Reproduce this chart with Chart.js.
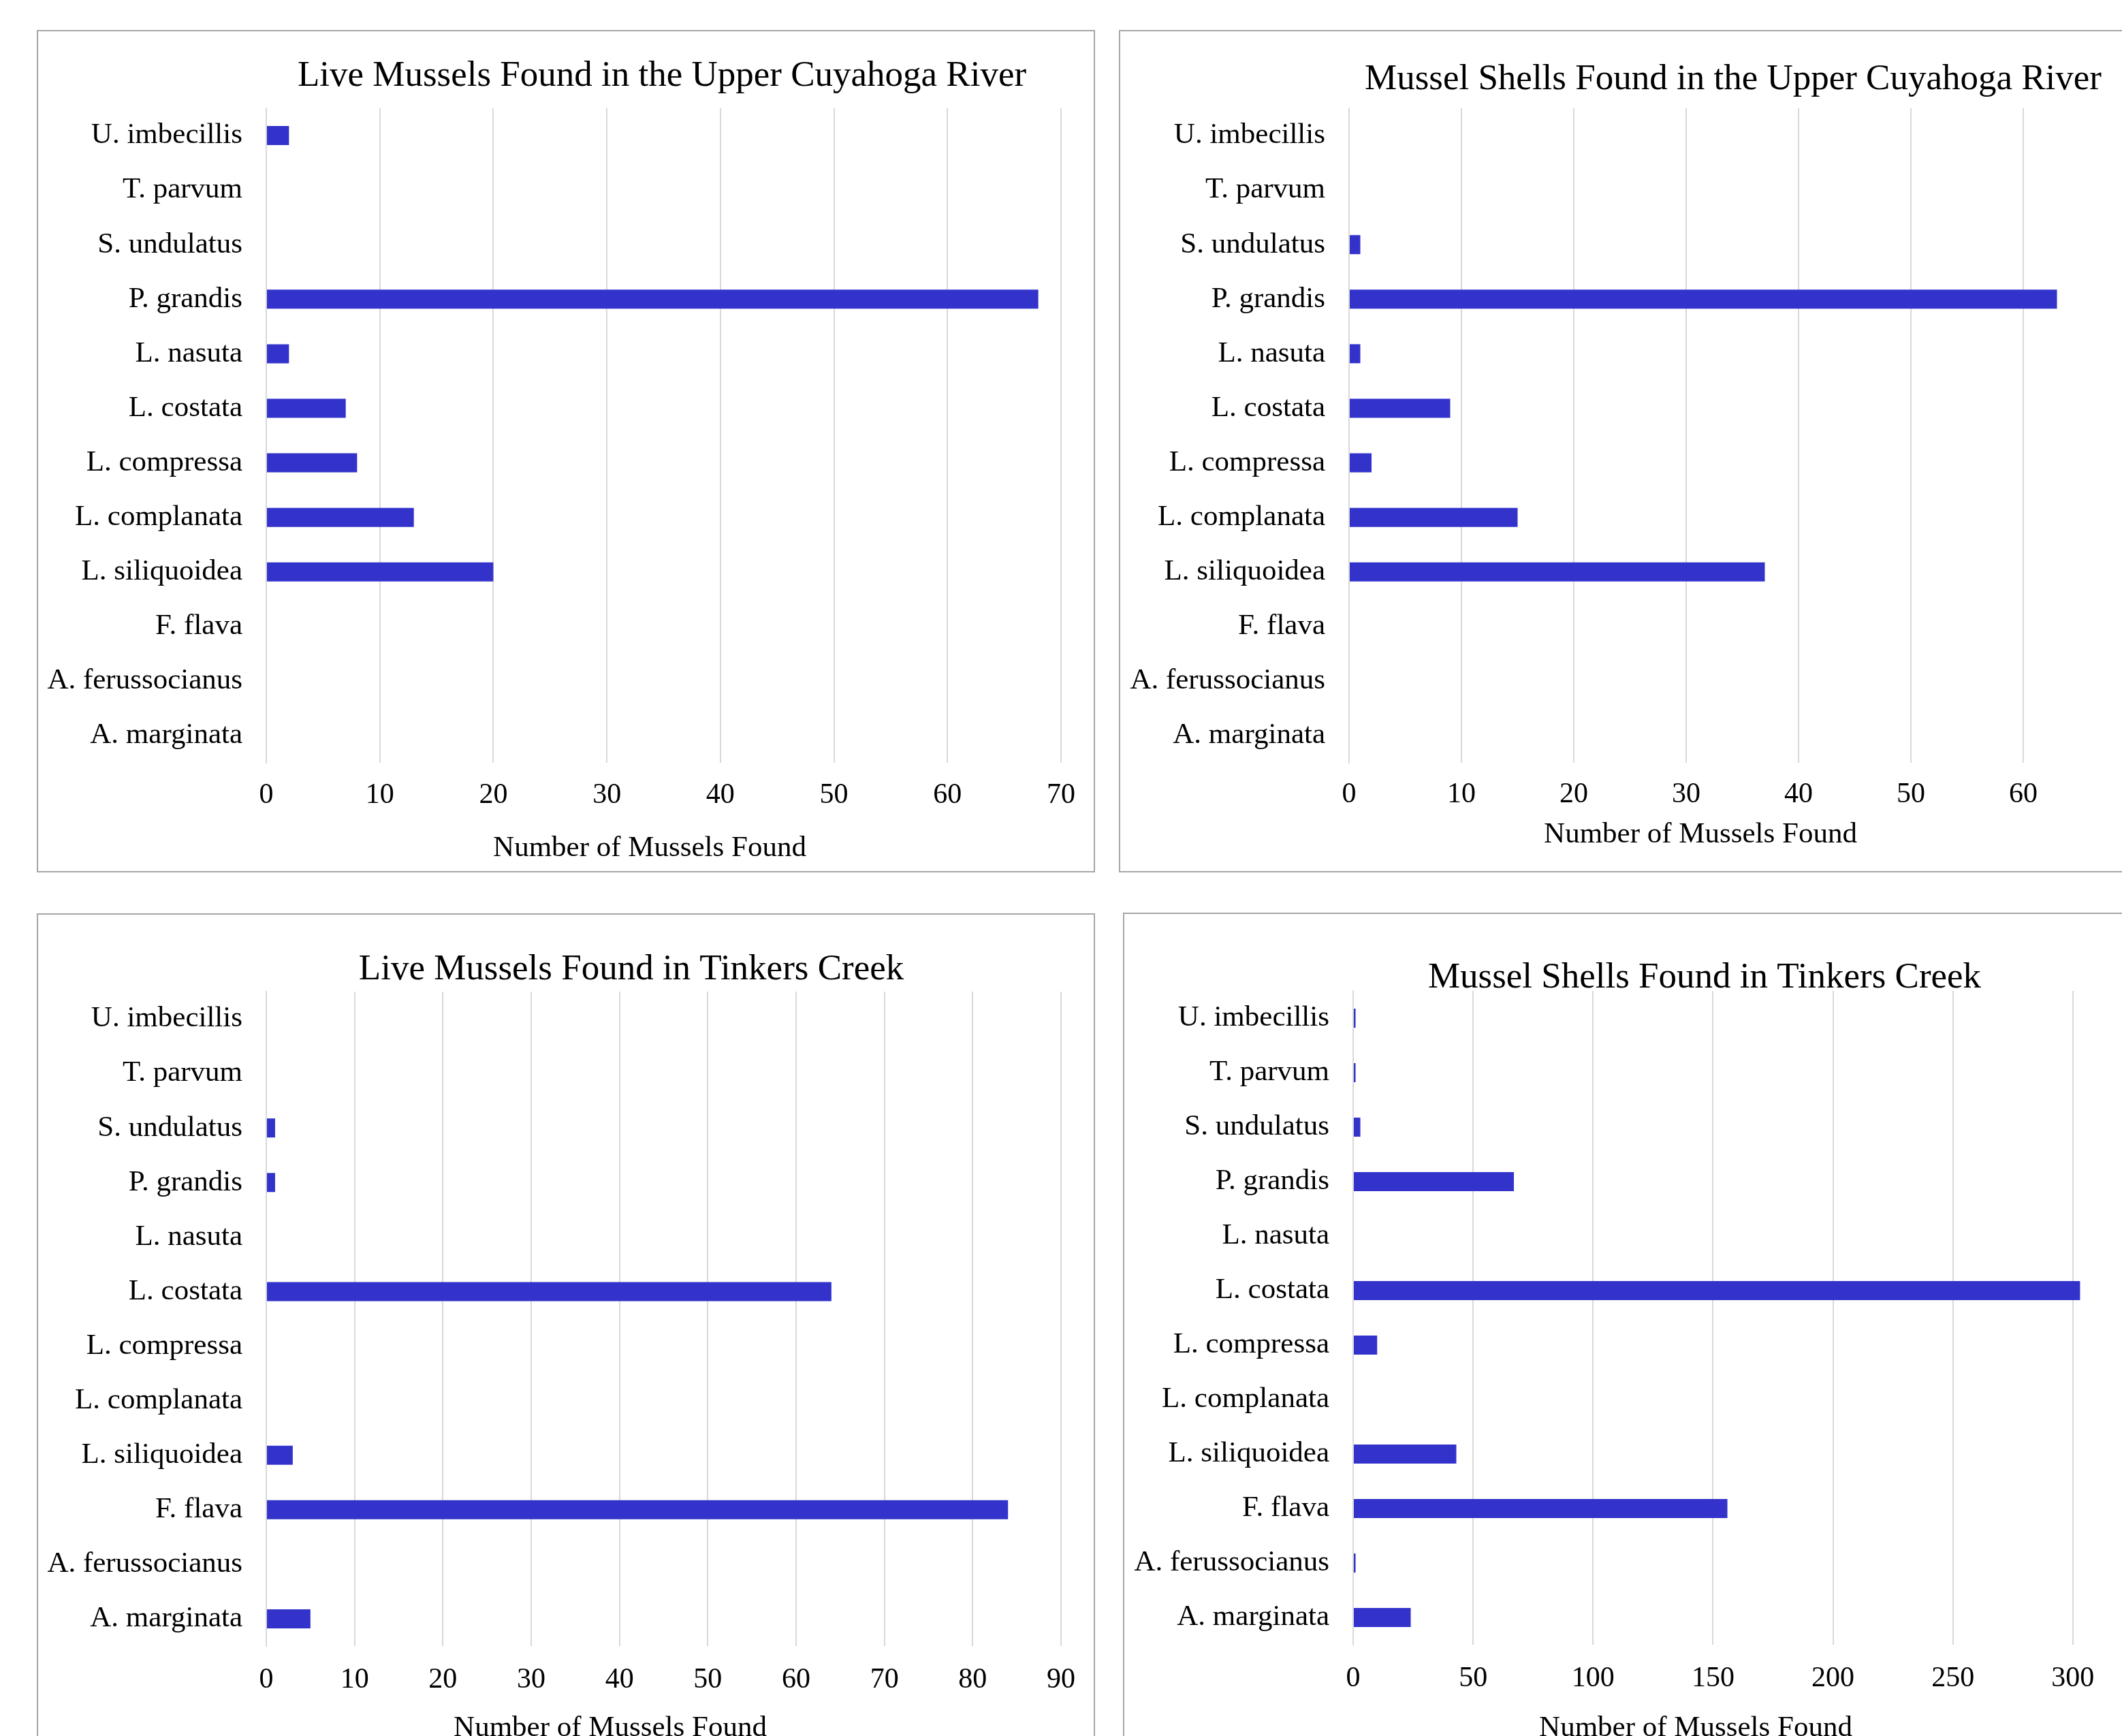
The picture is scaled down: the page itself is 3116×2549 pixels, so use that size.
<!DOCTYPE html>
<html>
<head>
<meta charset="utf-8">
<script src="https://cdn.jsdelivr.net/npm/chart.js@4.4.1/dist/chart.umd.min.js"></script>
<style>
  html, body { margin: 0; padding: 0; background: #fff; overflow: hidden; width: 3116px; height: 2549px; }
  canvas { position: absolute; }
  .frame { position: absolute; border: 2px solid #a6a6a6; box-sizing: border-box; pointer-events: none; }
</style>
</head>
<body>
<canvas id="c1"></canvas>
<canvas id="c2"></canvas>
<canvas id="c3"></canvas>
<canvas id="c4"></canvas>
<script>
const species = ['U. imbecillis', 'T. parvum', 'S. undulatus', 'P. grandis', 'L. nasuta', 'L. costata',
  'L. compressa', 'L. complanata', 'L. siliquoidea', 'F. flava', 'A. ferussocianus', 'A. marginata'];

const liveUpper = [2, 0, 0, 68, 2, 7, 8, 13, 20, 0, 0, 0];
const shellsUpper = [0, 0, 1, 63, 1, 9, 2, 15, 37, 0, 0, 0];
const liveTinkers = [0, 0, 1, 1, 0, 64, 0, 0, 3, 84, 0, 5];
const shellsTinkers = [1, 1, 3, 67, 0, 303, 10, 0, 43, 156, 1, 24];

const liveUpperTicks = [0, 10, 20, 30, 40, 50, 60, 70];
const shellsUpperTicks = [0, 10, 20, 30, 40, 50, 60, 70];
const liveTinkersTicks = [0, 10, 20, 30, 40, 50, 60, 70, 80, 90];
const shellsTinkersTicks = [0, 50, 100, 150, 200, 250, 300, 350];

const titles = [
  'Live Mussels Found in the Upper Cuyahoga River',
  'Mussel Shells Found in the Upper Cuyahoga River',
  'Live Mussels Found in Tinkers Creek',
  'Mussel Shells Found in Tinkers Creek'
];
const axisTitle = 'Number of Mussels Found';

const FONT = '"Liberation Serif", "Times New Roman", serif';
const barColor = '#3333cc';
const gridColor = '#d9d9d9';

// chart title and axis title, drawn where the original put them
const panelText = {
  id: 'panelText',
  afterDraw(chart, args, opts) {
    const ctx = chart.ctx;
    ctx.save();
    ctx.fillStyle = '#000';
    ctx.textAlign = 'center';
    ctx.textBaseline = 'alphabetic';
    ctx.font = '53px ' + FONT;
    ctx.fillText(opts.title, opts.tx, opts.ty);
    ctx.textBaseline = 'middle';
    ctx.font = '43px ' + FONT;
    ctx.fillText(opts.axis, opts.ax, opts.ay);
    ctx.restore();
  }
};

// page boxes and plot-area placement for each panel
const panels = [
  { id: 'c1', x: 54, y: 44, w: 1554, h: 1237, frameW: 1554, frameH: 1237,
    yW: 337, padR: 50, padT: 115, padB: 10, xH: 151, tickPad: 23,
    tx: 918, ty: 82, ax: 900, ay: 1202,
    data: liveUpper, ticks: liveUpperTicks, title: titles[0] },
  { id: 'c2', x: 1643, y: 44, w: 1607, h: 1237, frameW: 1607, frameH: 1237,
    yW: 338, padR: 114, padT: 115, padB: 30, xH: 131, tickPad: 22,
    tx: 902, ty: 87, ax: 854, ay: 1182,
    data: shellsUpper, ticks: shellsUpperTicks, title: titles[1] },
  { id: 'c3', x: 54, y: 1341, w: 1554, h: 1237, frameW: 1554, frameH: 1300,
    yW: 337, padR: 50, padT: 115, padB: 15, xH: 146, tickPad: 25,
    tx: 873, ty: 97, ax: 842, ay: 1197,
    data: liveTinkers, ticks: liveTinkersTicks, title: titles[2] },
  { id: 'c4', x: 1649, y: 1340, w: 1651, h: 1237, frameW: 1651, frameH: 1300,
    yW: 338, padR: 80, padT: 115, padB: 14, xH: 148, tickPad: 25,
    tx: 854, ty: 110, ax: 841, ay: 1198,
    data: shellsTinkers, ticks: shellsTinkersTicks, title: titles[3] }
];

panels.forEach(p => {
  const canvas = document.getElementById(p.id);
  canvas.width = p.w;
  canvas.height = p.h;
  canvas.style.left = p.x + 'px';
  canvas.style.top = p.y + 'px';
  canvas.style.width = p.w + 'px';
  canvas.style.height = p.h + 'px';

  const frame = document.createElement('div');
  frame.className = 'frame';
  frame.style.left = p.x + 'px';
  frame.style.top = p.y + 'px';
  frame.style.width = p.frameW + 'px';
  frame.style.height = p.frameH + 'px';
  document.body.appendChild(frame);

  new Chart(canvas.getContext('2d'), {
    type: 'bar',
    data: {
      labels: species,
      datasets: [{
        data: p.data,
        backgroundColor: barColor,
        borderWidth: 0,
        inflateAmount: 0,
        barThickness: 28
      }]
    },
    options: {
      indexAxis: 'y',
      responsive: false,
      animation: false,
      devicePixelRatio: 1,
      layout: { padding: { left: 0, right: p.padR, top: p.padT, bottom: p.padB } },
      plugins: {
        legend: { display: false },
        tooltip: { enabled: false },
        panelText: { title: p.title, tx: p.tx, ty: p.ty, axis: axisTitle, ax: p.ax, ay: p.ay }
      },
      scales: {
        x: {
          min: p.ticks[0],
          max: p.ticks[p.ticks.length - 1],
          ticks: {
            stepSize: p.ticks[1] - p.ticks[0],
            color: '#000',
            padding: p.tickPad,
            maxRotation: 0,
            font: { family: FONT, size: 42 }
          },
          grid: { color: gridColor, lineWidth: 2, drawTicks: false },
          border: { display: false },
          afterFit(scale) { scale.height = p.xH; }
        },
        y: {
          ticks: {
            color: '#000',
            padding: 27,
            font: { family: FONT, size: 43 }
          },
          grid: { display: false },
          border: { display: true, color: gridColor, width: 2 },
          afterFit(scale) { scale.width = p.yW; }
        }
      }
    },
    plugins: [panelText]
  });
});
</script>
</body>
</html>
